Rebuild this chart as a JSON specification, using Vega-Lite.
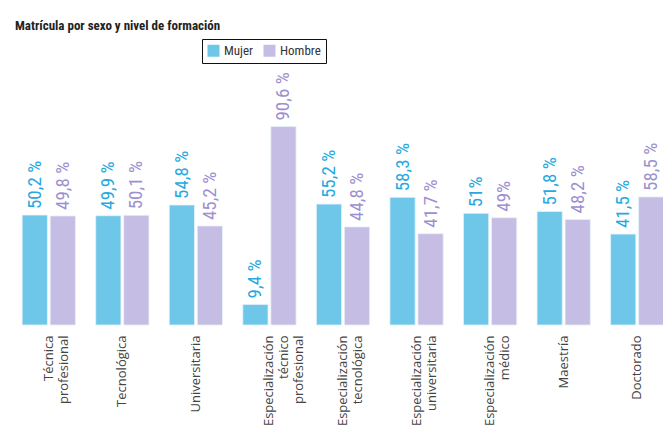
{
  "$schema": "https://vega.github.io/schema/vega-lite/v6.json",
  "autosize": "none",
  "width": 651,
  "height": 219,
  "padding": {"left": 12, "top": 106, "right": 0, "bottom": 107},
  "background": "white",
  "title": {
    "text": "Matrícula por sexo y nivel de formación",
    "anchor": "start",
    "frame": "group",
    "dx": 3,
    "offset": -7,
    "baseline": "bottom",
    "font": "Roboto Condensed, DejaVu Sans Condensed, Roboto",
    "fontSize": 13,
    "fontWeight": "bold",
    "color": "#222222"
  },
  "data": {
    "values": [
      {"nivel": "Técnica profesional", "sexo": "Mujer", "valor": 50.2, "etiqueta": "50,2 %"},
      {"nivel": "Técnica profesional", "sexo": "Hombre", "valor": 49.8, "etiqueta": "49,8 %"},
      {"nivel": "Tecnológica", "sexo": "Mujer", "valor": 49.9, "etiqueta": "49,9 %"},
      {"nivel": "Tecnológica", "sexo": "Hombre", "valor": 50.1, "etiqueta": "50,1 %"},
      {"nivel": "Universitaria", "sexo": "Mujer", "valor": 54.8, "etiqueta": "54,8 %"},
      {"nivel": "Universitaria", "sexo": "Hombre", "valor": 45.2, "etiqueta": "45,2 %"},
      {"nivel": "Especialización técnico profesional", "sexo": "Mujer", "valor": 9.4, "etiqueta": "9,4 %"},
      {"nivel": "Especialización técnico profesional", "sexo": "Hombre", "valor": 90.6, "etiqueta": "90,6 %"},
      {"nivel": "Especialización tecnológica", "sexo": "Mujer", "valor": 55.2, "etiqueta": "55,2 %"},
      {"nivel": "Especialización tecnológica", "sexo": "Hombre", "valor": 44.8, "etiqueta": "44,8 %"},
      {"nivel": "Especialización universitaria", "sexo": "Mujer", "valor": 58.3, "etiqueta": "58,3 %"},
      {"nivel": "Especialización universitaria", "sexo": "Hombre", "valor": 41.7, "etiqueta": "41,7 %"},
      {"nivel": "Especialización médico", "sexo": "Mujer", "valor": 51, "etiqueta": "51%"},
      {"nivel": "Especialización médico", "sexo": "Hombre", "valor": 49, "etiqueta": "49%"},
      {"nivel": "Maestría", "sexo": "Mujer", "valor": 51.8, "etiqueta": "51,8 %"},
      {"nivel": "Maestría", "sexo": "Hombre", "valor": 48.2, "etiqueta": "48,2 %"},
      {"nivel": "Doctorado", "sexo": "Mujer", "valor": 41.5, "etiqueta": "41,5 %"},
      {"nivel": "Doctorado", "sexo": "Hombre", "valor": 58.5, "etiqueta": "58,5 %"}
    ]
  },
  "encoding": {
    "x": {
      "field": "nivel",
      "type": "nominal",
      "sort": null,
      "scale": {"range": [0, 662], "paddingInner": 0.276, "paddingOuter": 0.138},
      "axis": {
        "title": null,
        "labelAngle": -90,
        "labelAlign": "right",
        "labelBaseline": "middle",
        "labelPadding": 10,
        "labelExpr": "split(datum.label, ' ')",
        "labelFont": "Open Sans",
        "labelFontSize": 13,
        "labelLineHeight": 15,
        "labelColor": "#444444",
        "ticks": false,
        "domain": false,
        "labelLimit": 200
      }
    },
    "xOffset": {
      "field": "sexo",
      "type": "nominal",
      "sort": ["Mujer", "Hombre"],
      "scale": {"paddingInner": 0.1}
    },
    "y": {
      "field": "valor",
      "type": "quantitative",
      "scale": {"domain": [0, 100]},
      "axis": null
    }
  },
  "layer": [
    {
      "mark": {"type": "bar", "stroke": "#E6F1FA", "strokeWidth": 0.8},
      "encoding": {
        "color": {
          "field": "sexo",
          "type": "nominal",
          "sort": ["Mujer", "Hombre"],
          "scale": {"domain": ["Mujer", "Hombre"], "range": ["#6EC6E9", "#C5BDE3"]},
          "legend": {
            "title": null,
            "orient": "none",
            "legendX": 190,
            "legendY": -67,
            "direction": "horizontal",
            "strokeColor": "#111111",
            "padding": 5,
            "symbolType": "square",
            "symbolSize": 144,
            "symbolStrokeWidth": 0,
            "labelFont": "Roboto Condensed, DejaVu Sans Condensed, Roboto",
            "labelFontSize": 13,
            "labelColor": "#333333",
            "columnPadding": 9,
            "labelOffset": 4
          }
        }
      }
    },
    {
      "mark": {
        "type": "text",
        "angle": 270,
        "align": "left",
        "baseline": "middle",
        "dx": 6,
        "font": "Roboto Condensed, DejaVu Sans Condensed, Roboto",
        "fontSize": 19
      },
      "encoding": {
        "text": {"field": "etiqueta"},
        "color": {
          "field": "sexo",
          "type": "nominal",
          "scale": {"domain": ["Mujer", "Hombre"], "range": ["#27A8DF", "#9D90D0"]},
          "legend": null
        }
      }
    }
  ],
  "resolve": {"scale": {"color": "independent"}},
  "config": {"view": {"stroke": null}}
}
